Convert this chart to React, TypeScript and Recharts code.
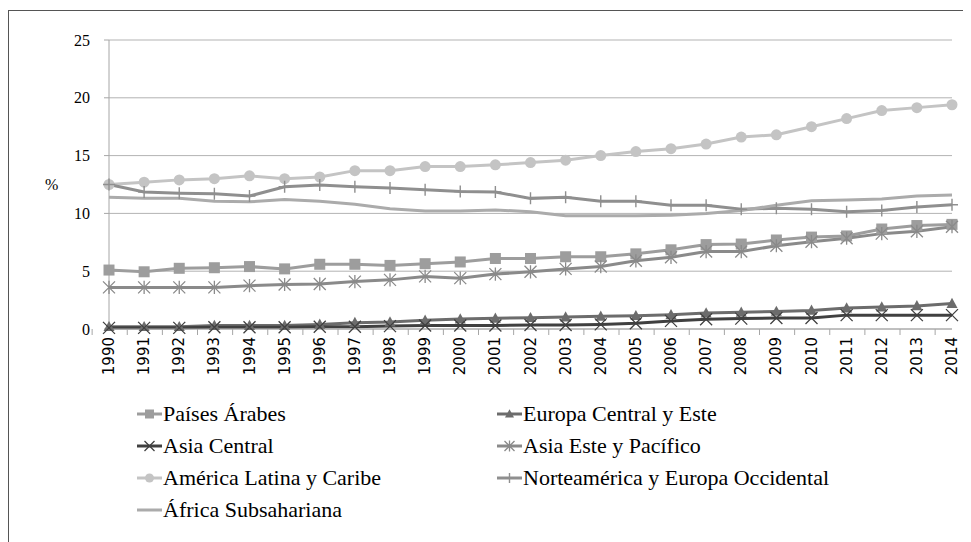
import React from 'react';
import { LineChart, Line, XAxis, YAxis, CartesianGrid, Legend } from 'recharts';

const years = ['1990','1991','1992','1993','1994','1995','1996','1997','1998','1999','2000','2001','2002','2003','2004','2005','2006','2007','2008','2009','2010','2011','2012','2013','2014'];

const paisesArabes = [5.1, 4.95, 5.25, 5.3, 5.4, 5.2, 5.6, 5.6, 5.5, 5.65, 5.8, 6.1, 6.1, 6.25, 6.25, 6.5, 6.85, 7.3, 7.35, 7.7, 7.95, 8.05, 8.65, 8.95, 9.05];
const europaCentral = [0.2, 0.2, 0.2, 0.3, 0.3, 0.3, 0.4, 0.55, 0.6, 0.75, 0.86, 0.92, 0.98, 1.04, 1.1, 1.15, 1.24, 1.38, 1.44, 1.52, 1.61, 1.81, 1.9, 2.0, 2.2];
const asiaCentral = [0.1, 0.1, 0.1, 0.15, 0.15, 0.15, 0.2, 0.2, 0.25, 0.3, 0.3, 0.3, 0.35, 0.35, 0.4, 0.5, 0.7, 0.85, 0.9, 0.95, 0.95, 1.2, 1.2, 1.2, 1.2];
const asiaEste = [3.6, 3.6, 3.6, 3.6, 3.75, 3.85, 3.9, 4.1, 4.25, 4.55, 4.4, 4.75, 4.95, 5.2, 5.4, 5.9, 6.2, 6.7, 6.7, 7.2, 7.55, 7.85, 8.25, 8.45, 8.85];
const americaLatina = [12.5, 12.7, 12.9, 13.0, 13.25, 13.0, 13.15, 13.7, 13.7, 14.05, 14.05, 14.2, 14.4, 14.6, 15.0, 15.35, 15.6, 16.0, 16.6, 16.8, 17.5, 18.2, 18.9, 19.15, 19.4];
const norteamerica = [12.5, 11.85, 11.75, 11.7, 11.5, 12.3, 12.45, 12.3, 12.2, 12.05, 11.9, 11.85, 11.3, 11.4, 11.05, 11.05, 10.7, 10.7, 10.35, 10.45, 10.35, 10.15, 10.25, 10.55, 10.75];
const africa = [11.4, 11.3, 11.3, 11.05, 11.0, 11.2, 11.05, 10.8, 10.4, 10.2, 10.2, 10.3, 10.15, 9.8, 9.8, 9.8, 9.85, 10.0, 10.25, 10.7, 11.1, 11.15, 11.25, 11.5, 11.6];

const yTicks = [0, 5, 10, 15, 20, 25];

type Shape = 'square' | 'triangle' | 'x' | 'asterisk' | 'circle' | 'plus' | 'none';

const series: { key: string; name: string; values: number[]; color: string; shape: Shape }[] = [
  { key: 'paisesArabes', name: 'Países Árabes', values: paisesArabes, color: '#9d9d9d', shape: 'square' },
  { key: 'europaCentral', name: 'Europa Central y Este', values: europaCentral, color: '#6c6c6c', shape: 'triangle' },
  { key: 'asiaCentral', name: 'Asia Central', values: asiaCentral, color: '#404040', shape: 'x' },
  { key: 'asiaEste', name: 'Asia Este y Pacífico', values: asiaEste, color: '#8a8a8a', shape: 'asterisk' },
  { key: 'americaLatina', name: 'América Latina y Caribe', values: americaLatina, color: '#c4c4c4', shape: 'circle' },
  { key: 'norteamerica', name: 'Norteamérica y Europa Occidental', values: norteamerica, color: '#8f8f8f', shape: 'plus' },
  { key: 'africa', name: 'África Subsahariana', values: africa, color: '#ababab', shape: 'none' },
];

const data = years.map((year, i) => {
  const row: Record<string, string | number> = { year };
  series.forEach((s) => { row[s.key] = s.values[i]; });
  return row;
});

const CHART_W = 963;
const CHART_H = 534;
const MARGIN = { top: 32, right: 19, left: 0, bottom: 0 };
const Y_AXIS_W = 101;
const LEGEND_H = 143;
const X_AXIS_H = 70;
const BAND = (CHART_W - MARGIN.left - MARGIN.right - Y_AXIS_W) / years.length;

const SERIF = '"Liberation Serif", "Times New Roman", serif';
const SANS = '"DejaVu Sans", Verdana, sans-serif';

function MarkerShape({ cx, cy, shape, color, size }: { cx?: number; cy?: number; shape: Shape; color: string; size: number }) {
  if (cx == null || cy == null || shape === 'none') return null;
  const h = size / 2;
  switch (shape) {
    case 'square':
      return <rect x={cx - h} y={cy - h} width={size} height={size} fill={color} />;
    case 'circle':
      return <circle cx={cx} cy={cy} r={h} fill={color} />;
    case 'triangle':
      return <polygon points={`${cx},${cy - h * 1.05} ${cx + h},${cy + h * 0.8} ${cx - h},${cy + h * 0.8}`} fill={color} />;
    case 'x':
      return <path d={`M${cx - h},${cy - h}L${cx + h},${cy + h}M${cx - h},${cy + h}L${cx + h},${cy - h}`} stroke={color} strokeWidth={1.3} fill="none" />;
    case 'asterisk':
      return <path d={`M${cx - h},${cy - h}L${cx + h},${cy + h}M${cx - h},${cy + h}L${cx + h},${cy - h}M${cx},${cy - h * 1.1}L${cx},${cy + h * 1.1}`} stroke={color} strokeWidth={1.3} fill="none" />;
    case 'plus':
      return <path d={`M${cx},${cy - h}L${cx},${cy + h}M${cx - h},${cy}L${cx + h},${cy}`} stroke={color} strokeWidth={1.4} fill="none" />;
    default:
      return null;
  }
}

const markerSize: Record<Shape, number> = { square: 11, circle: 11, triangle: 11, x: 12, asterisk: 12, plus: 12, none: 0 };

function XTick(props: any) {
  const { x, y, payload, index } = props;
  const half = BAND / 2;
  return (
    <g>
      <line x1={x - half} x2={x - half} y1={y} y2={y + 6} stroke="#a6a6a6" strokeWidth={1} />
      {index === years.length - 1 && (
        <line x1={x + half} x2={x + half} y1={y} y2={y + 6} stroke="#a6a6a6" strokeWidth={1} />
      )}
      <text
        x={x}
        y={y + 8}
        transform={`rotate(-90, ${x}, ${y + 8})`}
        textAnchor="end"
        dominantBaseline="central"
        fontFamily={SANS}
        fontSize={15}
        fill="#000"
      >
        {payload.value}
      </text>
    </g>
  );
}

function LegendContent() {
  return (
    <div style={{ position: 'relative', width: CHART_W, height: LEGEND_H, fontFamily: SERIF, fontSize: 22, color: '#000' }}>
      {series.map((s, i) => {
        const col = i % 2;
        const row = Math.floor(i / 2);
        return (
          <div
            key={s.key}
            style={{ position: 'absolute', left: col ? 489 : 129, top: row * 32 - 1, height: 32, display: 'flex', alignItems: 'center', whiteSpace: 'nowrap' }}
          >
            <svg width={25} height={14} style={{ display: 'block', marginRight: 1 }}>
              <line x1={0} x2={25} y1={7} y2={7} stroke={s.color} strokeWidth={3} />
              <MarkerShape cx={12.5} cy={7} shape={s.shape} color={s.color} size={Math.max(0, markerSize[s.shape] - 2)} />
            </svg>
            <span>{s.name}</span>
          </div>
        );
      })}
    </div>
  );
}

export default function App() {
  return (
    <div style={{ position: 'relative', width: CHART_W, height: CHART_H, overflow: 'hidden', background: '#fff' }}>
      <div style={{ position: 'absolute', left: 0, top: 2, width: 2000, height: 2000, border: '1px solid #555', boxSizing: 'border-box' }} />
      <LineChart width={CHART_W} height={CHART_H} data={data} margin={MARGIN}>
        <CartesianGrid vertical={false} stroke="#b3b3b3" strokeWidth={1} />
        <XAxis
          dataKey="year"
          interval={0}
          height={X_AXIS_H}
          tickLine={false}
          tickSize={0}
          tickMargin={0}
          axisLine={{ stroke: '#a6a6a6' }}
          tick={<XTick />}
        />
        <YAxis
          width={Y_AXIS_W}
          domain={[0, 25]}
          ticks={yTicks}
          tickSize={5}
          tickMargin={14}
          axisLine={{ stroke: '#a6a6a6' }}
          tickLine={{ stroke: '#a6a6a6' }}
          tick={{ fontFamily: SERIF, fontSize: 16, fill: '#000' }}
          label={{ value: '%', position: 'insideLeft', offset: 37, style: { fontFamily: SERIF, fontSize: 16, fill: '#000' } }}
        />
        <Legend verticalAlign="bottom" align="left" content={<LegendContent />} wrapperStyle={{ left: 0, bottom: 0, width: CHART_W, height: LEGEND_H }} />
        {series.map((s) => (
          <Line
            key={s.key}
            dataKey={s.key}
            name={s.name}
            stroke={s.color}
            strokeWidth={3}
            isAnimationActive={false}
            activeDot={false}
            dot={(p: any) => (
              <MarkerShape key={`${s.key}-${p.index}`} cx={p.cx} cy={p.cy} shape={s.shape} color={s.color} size={markerSize[s.shape]} />
            )}
          />
        ))}
      </LineChart>
    </div>
  );
}
